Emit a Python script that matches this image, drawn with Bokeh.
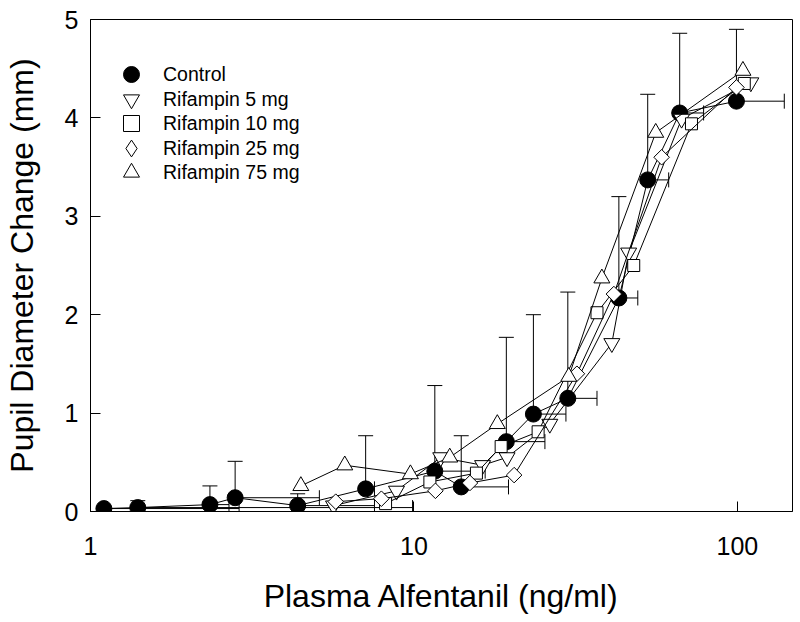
from bokeh.plotting import figure
from bokeh.models import (Whisker, TeeHead, FixedTicker, PrintfTickFormatter,
                          Legend, LegendItem, ColumnDataSource, Range1d)
from bokeh.embed import file_html
from bokeh.resources import INLINE
import numpy as np

# ---- data ----
control_x = [1.10, 1.40, 2.34, 2.80, 4.37, 7.09, 11.6, 14.0, 19.3, 23.4, 29.9, 43.0, 52.8, 66.3, 99.3]
control_y = [0.03, 0.04, 0.07, 0.14, 0.06, 0.23, 0.41, 0.25, 0.71, 0.99, 1.15, 2.17, 3.37, 4.05, 4.17]
control_y_upper = [0.05, 0.11, 0.26, 0.51, 0.18, 0.77, 1.28, 0.77, 1.77, 2.00, 2.23, 3.20, 4.24, 4.86, 4.90]
control_x_upper = [2.88, 9.9, 2.68, 5.1, 7.55, 7.55, 16.6, 19.6, 25.4, 29.5, 36.8, 49.2, 61.3, 78.6, 139.6]

rif5_x = [5.64, 8.83, 12.1, 16.3, 19.4, 26.3, 40.9, 46.1, 67.2, 110.0]
rif5_y = [0.06, 0.21, 0.55, 0.47, 0.55, 0.89, 1.71, 2.63, 3.99, 4.36]

rif10_x = [8.17, 11.2, 15.6, 18.6, 24.2, 36.8, 47.8, 72.1, 105.0]
rif10_y = [0.08, 0.30, 0.39, 0.66, 0.81, 2.02, 2.50, 3.94, 4.35]

rif25_x = [5.73, 7.93, 11.65, 14.9, 20.4, 31.9, 41.5, 58.3, 99.3]
rif25_y = [0.10, 0.13, 0.21, 0.29, 0.37, 1.40, 2.21, 3.60, 4.31]

rif75_x = [4.47, 6.11, 9.75, 12.9, 18.1, 30.1, 38.1, 55.9, 104.0]
rif75_y = [0.26, 0.47, 0.38, 0.55, 0.89, 1.37, 2.37, 3.85, 4.48]

labels = ["Control", "Rifampin 5 mg", "Rifampin 10 mg", "Rifampin 25 mg", "Rifampin 75 mg"]
x_ticks = [1, 10, 100]
y_ticks = [0, 1, 2, 3, 4, 5]

FONT = "Liberation Sans"

p = figure(width=794, height=620, x_axis_type="log",
           x_range=Range1d(1, 148), y_range=Range1d(0, 5),
           output_backend="svg", toolbar_location=None,
           min_border_left=87, min_border_right=2,
           min_border_top=19, min_border_bottom=109)

p.grid.visible = False
p.outline_line_color = "black"
p.outline_line_width = 1
p.background_fill_color = "white"
p.border_fill_color = "white"

for ax in (p.xaxis, p.yaxis):
    ax.axis_line_color = "black"
    ax.major_tick_line_color = "black"
    ax.major_tick_in = 10
    ax.major_tick_out = 0
    ax.minor_tick_line_color = None
    ax.major_label_text_font = FONT
    ax.major_label_text_font_size = "25px"
    ax.major_label_text_color = "black"
    ax.axis_label_text_font = FONT
    ax.axis_label_text_font_size = "32px"
    ax.axis_label_text_font_style = "normal"
    ax.axis_label_text_color = "black"

p.xaxis.ticker = FixedTicker(ticks=x_ticks, minor_ticks=[])
p.xaxis.formatter = PrintfTickFormatter(format="%d")
p.yaxis.ticker = FixedTicker(ticks=y_ticks, minor_ticks=[])
p.xaxis.axis_label = "Plasma Alfentanil (ng/ml)"
p.yaxis.axis_label = "Pupil Diameter Change (mm)"
p.xaxis.major_label_standoff = 25
p.yaxis.major_label_standoff = 12
p.xaxis.axis_label_standoff = 20
p.yaxis.axis_label_standoff = 22

# error bars for the control series
err_src = ColumnDataSource(dict(x=control_x, y=control_y, yu=control_y_upper, xu=control_x_upper))
vw = Whisker(source=err_src, base="x", lower="y", upper="yu", dimension="height",
             line_color="black", line_width=1,
             upper_head=TeeHead(size=15, line_color="black", line_width=1), lower_head=None,
             level="underlay")
hw = Whisker(source=err_src, base="y", lower="x", upper="xu", dimension="width",
             line_color="black", line_width=1,
             upper_head=TeeHead(size=15, line_color="black", line_width=1), lower_head=None,
             level="underlay")
p.add_layout(vw)
p.add_layout(hw)

series = [
    (control_x, control_y, "circle", 16, "black", 0),
    (rif5_x, rif5_y, "inverted_triangle", 16, "white", 0),
    (rif10_x, rif10_y, "square", 12, "white", 0),
    (rif25_x, rif25_y, "square", 11, "white", np.pi / 4),
    (rif75_x, rif75_y, "triangle", 16, "white", 0),
]
legend_markers = ["circle", "inverted_triangle", "square", "diamond", "triangle"]

legend_renderers = []
for (xs, ys, mk, sz, fill, ang), lmk in zip(series, legend_markers):
    p.line(xs, ys, line_color="black", line_width=1)
    r = p.scatter(xs, ys, marker=mk, size=sz, angle=ang, fill_color=fill,
                  line_color="black", line_width=1)
    if lmk != mk:
        # hidden twin renderer so that the legend key shows a diamond
        r = p.scatter(xs, ys, marker=lmk, size=sz, fill_color=fill,
                      line_color="black", line_width=1, visible=False)
    legend_renderers.append(r)

# one single-row legend per entry, stacked ~24.5 px apart
legend_bottoms = [417, 392, 368, 343, 319]
for i, (lab, r, vy) in enumerate(zip(labels, legend_renderers, legend_bottoms)):
    g = 42 if legend_markers[i] == "diamond" else 40
    off = (g - 40) // 2
    lg = Legend(items=[LegendItem(label=lab, renderers=[r])],
                location=(21 - off, vy - off),
                glyph_width=g, glyph_height=g, label_height=20,
                label_standoff=12 - off,
                padding=0, margin=0, spacing=0, click_policy="none",
                label_text_font=FONT, label_text_font_size="19.5px",
                label_text_color="black",
                border_line_color=None, background_fill_alpha=0)
    p.add_layout(lg)

open("out.html", "w").write(file_html(p, INLINE))
